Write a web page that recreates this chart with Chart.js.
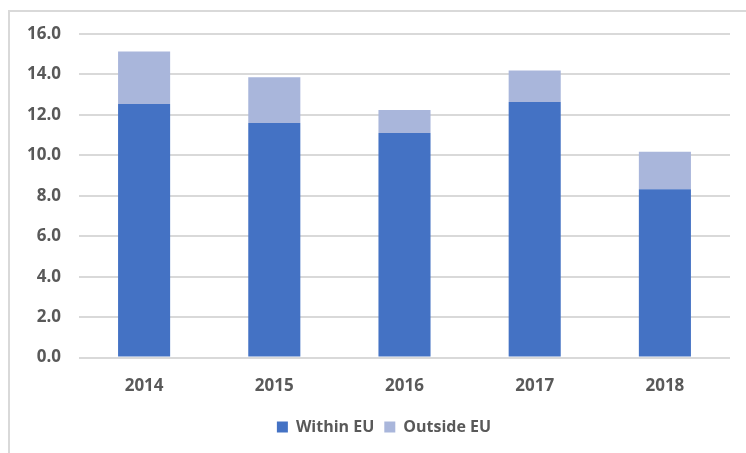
<!DOCTYPE html>
<html>
<head>
<meta charset="utf-8">
<script src="https://cdn.jsdelivr.net/npm/chart.js@4.4.1/dist/chart.umd.min.js"></script>
<style>
  html, body { margin: 0; padding: 0; background: #ffffff; }
  #wrap { position: relative; width: 746px; height: 453px; }
</style>
</head>
<body>
<div id="wrap"><canvas id="c" width="746" height="453"></canvas></div>
<script>
// Số liệu theo năm (đơn vị theo trục Y)
const years = ["2014", "2015", "2016", "2017", "2018"];
const withinEU = [12.54, 11.6, 11.1, 12.64, 8.32];
const outsideEU = [2.59, 2.26, 1.14, 1.56, 1.86];
const yTicks = [0, 2, 4, 6, 8, 10, 12, 14, 16];

const TEXT = "#595959";
const GRID = "#d9d9d9";
const FONT = { family: "'Open Sans', 'DejaVu Sans', sans-serif", size: 17, weight: "bold" };

// Khung viền mảnh ở cạnh trên và cạnh trái
const framePlugin = {
  id: "frame",
  beforeDraw(chart) {
    const ctx = chart.ctx;
    ctx.save();
    ctx.strokeStyle = GRID;
    ctx.lineWidth = 2;
    ctx.beginPath();
    ctx.moveTo(746, 11);
    ctx.lineTo(9, 11);
    ctx.lineTo(9, 453);
    ctx.stroke();
    ctx.restore();
  }
};

// Dời chú thích sang phải một chút để nằm giữa vùng vẽ
const legendShift = {
  id: "legendShift",
  afterLayout(chart) {
    chart.legend.left += 14;
    chart.legend.right += 14;
  }
};

new Chart(document.getElementById("c"), {
  type: "bar",
  data: {
    labels: years,
    datasets: [
      {
        label: "Within EU",
        data: withinEU,
        backgroundColor: "#4472c4",
        borderWidth: 0
      },
      {
        label: "Outside EU",
        data: outsideEU,
        backgroundColor: "#a9b6db",
        borderWidth: 0
      }
    ]
  },
  options: {
    responsive: false,
    animation: false,
    layout: { padding: { left: 10, right: 16, top: 34, bottom: 8 } },
    categoryPercentage: 1,
    barPercentage: 0.4,
    plugins: {
      legend: {
        position: "bottom",
        labels: {
          color: TEXT,
          font: { ...FONT, size: 16 },
          boxWidth: 11,
          boxHeight: 11,
          padding: 10
        }
      },
      tooltip: { enabled: false }
    },
    scales: {
      x: {
        stacked: true,
        grid: { display: false },
        border: { display: false },
        afterFit(scale) { scale.height += 3; },
        ticks: { color: TEXT, font: FONT, padding: 10 }
      },
      y: {
        stacked: true,
        min: 0,
        max: 16,
        afterBuildTicks(scale) {
          scale.ticks = yTicks.map(v => ({ value: v }));
        },
        afterFit(scale) { scale.width = 69; },
        grid: { color: GRID, lineWidth: 2, drawTicks: false },
        border: { display: false },
        ticks: {
          color: TEXT,
          font: FONT,
          padding: 18,
          callback: v => v.toFixed(1)
        }
      }
    }
  },
  plugins: [framePlugin, legendShift]
});
</script>
</body>
</html>
